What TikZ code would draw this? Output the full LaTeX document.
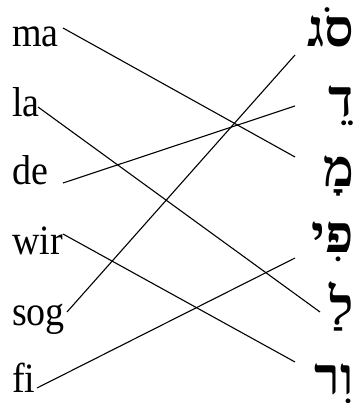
\documentclass[tikz,border=0pt]{standalone}
\usepackage{fontspec}
\setmainfont{Liberation Serif}
\newfontfamily\hebfont[Script=Hebrew]{Liberation Serif}
\TeXXeTstate=1
\newcommand{\tallword}[1]{\scalebox{1}[1.1]{#1}}
\begin{document}
\begin{tikzpicture}[x=1pt,y=1pt,
  lat/.style={anchor=base west, inner sep=0pt, font=\fontsize{38}{38}\selectfont},
  heb/.style={anchor=base east, inner sep=0pt, font=\hebfont\bfseries\fontsize{52}{52}\selectfont},
  link/.style={line width=1.1pt}]
\useasboundingbox (0,0) rectangle (357,403);
% Latin words
\node[lat] (ma)  at (12,356) {\tallword{ma}};
\node[lat] (la)  at (12,286) {\tallword{la}};
\node[lat] (de)  at (12,218) {\tallword{de}};
\node[lat] (wir) at (12,148) {\tallword{wir}};
\node[lat] (sog) at (12,77) {\tallword{sog}};
\node[lat] (fi)  at (12,10) {\tallword{fi}};
% Hebrew words
\node[heb] (hsog) at (354,356) {\beginR סֹג\endR};
\node[heb] (hde)  at (354,286) {\beginR דֵ\endR};
\node[heb] (hma)  at (354,216) {\beginR מָ\endR};
\node[heb] (hfi)  at (354,150) {\beginR פִי\endR};
\node[heb] (hla)  at (354,78) {\beginR לַ\endR};
\node[heb] (hwir) at (354,9) {\beginR וִר\endR};
% line end points
\coordinate (ma-e)  at (63,375);
\coordinate (la-e)  at (38,296);
\coordinate (de-e)  at (63,220);
\coordinate (wir-e) at (63,169);
\coordinate (sog-e) at (67,91);
\coordinate (fi-e)  at (37,15);
\coordinate (hsog-e) at (295,348);
\coordinate (hde-e)  at (295,297);
\coordinate (hma-e)  at (295,246);
\coordinate (hfi-e)  at (295,145);
\coordinate (hla-e)  at (320,91);
\coordinate (hwir-e) at (295,41);
\draw[link] (ma-e) -- (hma-e);
\draw[link] (la-e) -- (hla-e);
\draw[link] (de-e) -- (hde-e);
\draw[link] (wir-e) -- (hwir-e);
\draw[link] (sog-e) -- (hsog-e);
\draw[link] (fi-e) -- (hfi-e);
\end{tikzpicture}
\end{document}
